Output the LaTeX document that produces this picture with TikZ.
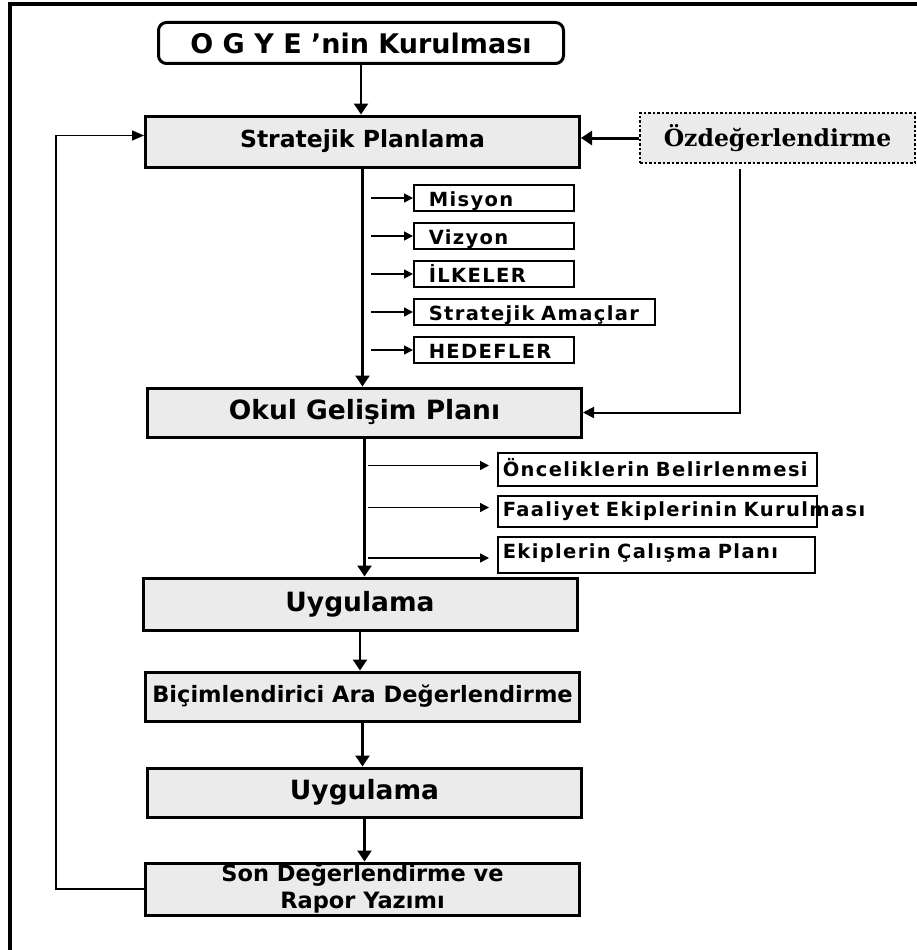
\documentclass[tikz,border=0pt]{standalone}
\usepackage{fontspec}
\setmainfont{DejaVu Sans}
\newfontfamily\labelfont{DejaVu Sans}[LetterSpace=7]
\newfontfamily\seriffont{DejaVu Serif}
\usetikzlibrary{arrows.meta}
\definecolor{boxgray}{gray}{0.92}
\begin{document}
\begin{tikzpicture}
[x=1pt,y=-1pt,color=black,
 bigbox/.style={draw,line width=3pt,fill=boxgray,minimum width=434pt,minimum height=50pt,inner sep=0pt},
 sbox/.style={draw,line width=1.5pt,fill=white,minimum height=26pt,inner ysep=0pt,text height=19pt,text depth=2pt,align=left,anchor=west,font=\labelfont\bfseries\fontsize{19.5}{22}\selectfont},
 main/.style={line width=2.5pt,-{Triangle[length=11pt,width=14pt]}},
 sarrow/.style={line width=1.5pt,-{Triangle[length=9pt,width=9pt]}},
 fback/.style={line width=1.5pt,-{Triangle[length=12pt,width=10pt]}}]
\useasboundingbox (0,0) rectangle (917,950);
\draw [line width=3.5pt] (10,950) -- (10,4) -- (917,4);
\node [draw,line width=3pt,rounded corners=8pt,fill=white,minimum width=405pt,minimum height=41pt,inner sep=0pt,font=\bfseries\fontsize{27}{30}\selectfont] (ogye) at (361,43) {O G Y E 'nin Kurulması};
\node [bigbox,minimum height=51pt,font=\bfseries\fontsize{23.5}{28}\selectfont] (sp) at (362.5,141.5) {Stratejik Planlama};
\node [draw,line width=2.5pt,dash pattern=on 2.5pt off 2pt,fill=boxgray,minimum width=275pt,minimum height=50pt,inner sep=0pt,font=\seriffont\bfseries\fontsize{23.5}{26}\selectfont] (oz) at (777.5,138) {Özdeğerlendirme};
\node [sbox,text width=130pt,inner xsep=15pt] (mis) at (413,198) {Misyon};
\node [sbox,text width=130pt,inner xsep=15pt] (viz) at (413,236) {Vizyon};
\node [sbox,text width=130pt,inner xsep=15pt] (ilke) at (413,274) {İLKELER};
\node [sbox,text width=211pt,inner xsep=15pt] (amac) at (413,312) {Stratejik Amaçlar};
\node [sbox,text width=130pt,inner xsep=15pt] (hedef) at (413,350) {HEDEFLER};
\node [bigbox,minimum height=49pt,font=\bfseries\fontsize{26.5}{30}\selectfont] (okul) at (364.5,412.5) {Okul Gelişim Planı};
\node [sbox,text width=309pt,inner xsep=5pt,minimum height=33pt,text height=17pt,text depth=4pt] (onc) at (497,469.5) {Önceliklerin Belirlenmesi};
\node [sbox,text width=309pt,inner xsep=5pt,minimum height=31pt,text height=14pt,text depth=5pt] (faal) at (497,511.5) {\mbox{Faaliyet Ekiplerinin Kurulması}};
\node [sbox,text width=307pt,inner xsep=5pt,minimum height=36pt,text height=13pt,text depth=6pt] (ekip) at (497,555) {Ekiplerin Çalışma Planı};
\node [bigbox,minimum height=52pt,font=\bfseries\fontsize{26.5}{30}\selectfont] (u1) at (360,604) {Uygulama};
\node [bigbox,minimum height=49pt,font=\bfseries\fontsize{22.5}{27}\selectfont] (bic) at (362.5,696.5) {Biçimlendirici Ara Değerlendirme};
\node [bigbox,minimum height=49pt,font=\bfseries\fontsize{26.5}{30}\selectfont] (u2) at (364.5,792.5) {Uygulama};
\node [bigbox,minimum height=52pt,align=center,font=\bfseries\fontsize{22.5}{27}\selectfont] (son) at (362.5,889) {Son Değerlendirme ve\\Rapor Yazımı};
\draw [main] (ogye.south) -- (ogye.south |- sp.north);
\draw [main] (sp.south) -- (sp.south |- okul.north);
\draw [sarrow] ([xshift=-42pt]mis.west) -- (mis.west);
\draw [sarrow] ([xshift=-42pt]viz.west) -- (viz.west);
\draw [sarrow] ([xshift=-42pt]ilke.west) -- (ilke.west);
\draw [sarrow] ([xshift=-42pt]amac.west) -- (amac.west);
\draw [sarrow] ([xshift=-42pt]hedef.west) -- (hedef.west);
\draw [main] (okul.south) -- (okul.south |- u1.north);
\draw [sarrow] ([xshift=-129pt,yshift=4pt]onc.west) -- ([xshift=-8pt,yshift=4pt]onc.west);
\draw [sarrow] ([xshift=-129pt,yshift=4pt]faal.west) -- ([xshift=-8pt,yshift=4pt]faal.west);
\draw [sarrow] ([xshift=-129pt,yshift=-3pt]ekip.west) -- ([xshift=-8pt,yshift=-3pt]ekip.west);
\draw [main] (u1.south) -- (u1.south |- bic.north);
\draw [main] (bic.south) -- (bic.south |- u2.north);
\draw [main] (u2.south) -- (u2.south |- son.north);
\draw [fback] (son.west) -- ++(-88pt,0) |- ([yshift=6pt]sp.west);
\draw [main,line width=3pt] (oz.west) -- (oz.west -| sp.east);
\draw [line width=2pt,-{Triangle[length=11pt,width=11pt]}] ([xshift=-38pt,yshift=-5pt]oz.south) |- (okul.east);
\end{tikzpicture}
\end{document}
